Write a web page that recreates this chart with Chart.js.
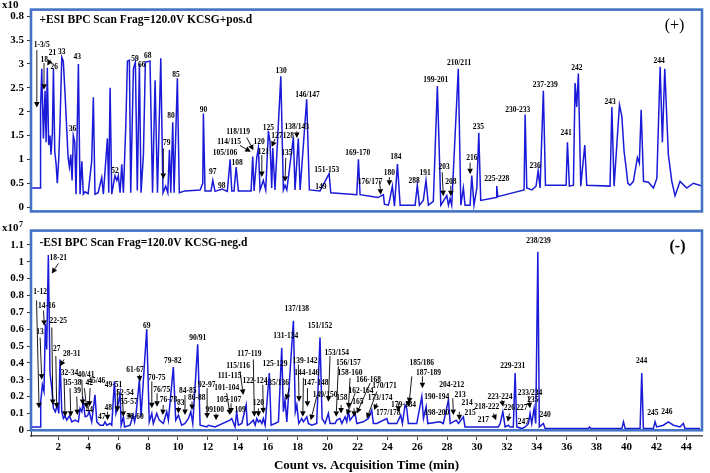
<!DOCTYPE html>
<html><head><meta charset="utf-8">
<script src="https://cdn.jsdelivr.net/npm/chart.js"></script>
<style>
html,body{margin:0;padding:0;background:#fff;}
#wrap{position:relative;width:710px;height:473px;overflow:hidden;background:#fff;}
canvas{position:absolute;left:0;}
</style></head><body>
<div id="wrap">
<canvas id="cTop" width="710" height="221" style="top:0"></canvas>
<canvas id="cBot" width="710" height="252" style="top:221px"></canvas>
</div>
<script>
// ---------- DATA ----------
// (+) ESI trace: acquisition time (min) and count (x10^7)
const topTime = [
0.22,0.78,0.81,0.89,1.00,1.11,1.18,1.26,1.35,1.44,
1.51,1.60,1.67,1.76,1.85,1.93,2.03,2.11,2.23,2.33,
2.45,2.56,2.65,2.74,2.83,2.92,3.00,3.10,3.18,3.34,
3.45,3.57,3.67,3.79,3.99,4.23,4.34,4.45,4.66,4.90,
5.01,5.28,5.37,5.46,5.57,5.79,5.91,6.01,6.13,6.24,
6.35,6.51,6.62,6.75,6.84,7.02,7.15,7.28,7.42,7.53,
7.69,7.82,8.13,8.30,8.47,8.63,8.85,9.00,9.18,9.32,
9.43,9.52,9.65,9.74,9.96,10.09,10.47,11.48,11.66,11.70,
11.81,12.21,12.33,12.48,12.95,13.30,13.49,13.60,13.75,13.89,
14.04,14.89,15.00,15.09,15.27,15.38,15.49,15.71,15.87,16.05,
16.16,16.27,16.34,16.49,16.88,17.05,17.16,17.28,17.72,17.83,
18.05,18.17,18.61,18.79,19.50,20.11,20.22,21.96,22.07,22.18,
23.38,23.74,23.81,24.07,24.14,24.34,24.48,24.68,24.86,25.86,
26.01,26.15,26.41,26.59,26.75,27.08,27.35,27.58,27.98,28.09,
28.20,28.31,28.75,28.92,29.09,29.20,29.54,29.65,29.80,29.99,
30.12,30.25,31.28,31.32,31.39,33.15,33.22,33.33,33.67,33.95,
34.09,34.22,34.44,34.58,35.96,36.05,36.18,36.45,36.56,36.67,
36.78,36.94,37.21,37.34,38.90,39.02,39.17,39.53,39.69,39.84,
39.97,40.09,40.24,40.46,40.73,40.86,40.98,41.14,41.47,41.80,
42.03,42.25,42.40,42.56,42.80,43.03,43.25,43.58,44.03,44.47,
45.04];
const topCount = [
0.40,0.40,2.06,2.90,1.44,2.44,1.36,2.92,1.30,1.50,
1.10,1.56,2.90,1.16,0.90,0.50,1.04,1.76,3.14,3.06,
2.36,1.64,1.04,0.84,1.10,0.56,1.50,1.36,0.27,3.00,
0.27,0.96,0.27,0.32,0.28,0.96,2.30,0.27,0.30,0.62,
0.27,1.44,0.30,2.50,0.27,0.66,0.56,0.66,0.30,0.90,
0.30,1.70,3.06,3.08,0.30,2.90,3.04,0.35,3.00,0.30,
1.10,3.04,3.06,0.30,2.66,0.30,3.12,0.30,0.44,0.30,
1.20,0.30,1.78,0.30,2.70,0.30,0.34,0.36,0.50,1.96,
0.34,0.34,0.56,0.33,0.38,0.33,1.00,0.34,0.34,0.84,
0.34,0.34,1.06,0.34,1.04,1.24,0.36,0.56,0.36,1.60,
1.34,0.40,1.24,0.36,2.74,0.36,0.46,0.36,1.46,0.36,
1.44,0.36,2.26,0.36,0.34,0.70,0.30,0.26,1.00,0.26,
0.20,0.26,0.06,0.04,0.12,0.44,0.02,0.90,0.04,0.04,
0.46,0.04,0.14,0.56,0.04,0.12,2.54,0.04,0.24,0.04,
0.18,0.04,2.90,0.04,0.40,0.04,0.04,0.66,0.04,0.40,
1.56,0.14,0.20,0.44,0.22,0.36,1.94,0.40,0.36,0.44,
0.76,0.40,2.44,0.46,0.46,1.36,0.44,0.46,2.60,2.10,
2.80,0.44,1.30,0.46,0.44,2.10,0.44,2.14,1.90,1.16,
0.84,0.50,0.46,0.54,1.04,0.92,2.04,0.54,0.52,0.40,
0.60,2.94,1.36,2.90,1.10,0.54,0.24,0.54,0.40,0.50,
0.44];

// (-) ESI trace: acquisition time (min) and count (x10^7)
const botTime = [
0.22,0.78,0.82,0.93,1.04,1.13,1.22,1.33,1.44,1.56,
1.67,1.80,1.93,2.03,2.11,2.23,2.34,2.45,2.56,2.74,
2.90,3.12,3.34,3.45,3.57,3.67,3.79,3.94,4.07,4.23,
4.45,4.57,4.79,5.01,5.12,5.24,5.46,5.57,5.75,5.85,
5.95,6.13,6.20,6.35,6.43,6.80,7.00,7.10,7.20,7.42,
7.53,7.66,7.91,8.08,8.25,8.35,8.58,8.75,9.02,9.25,
9.36,9.69,9.85,10.03,10.25,10.47,10.70,10.86,10.99,11.32,
11.48,11.93,12.03,12.48,13.48,13.60,13.82,13.93,14.04,14.27,
14.56,14.64,14.82,15.04,15.16,15.27,15.38,15.49,15.61,15.71,
15.83,16.11,16.23,16.49,16.72,16.94,17.05,17.16,17.28,17.72,
17.85,17.95,18.08,18.28,18.39,18.62,18.72,18.95,19.28,19.50,
19.64,19.84,20.06,20.17,20.51,20.62,20.84,20.96,21.18,21.29,
21.40,21.51,21.85,21.96,22.40,22.74,22.96,23.07,23.30,23.97,
24.07,24.64,24.90,25.01,25.19,25.30,25.41,25.97,26.31,26.42,
26.60,26.71,27.53,27.75,28.09,28.21,28.61,28.76,29.09,29.20,
31.43,31.55,31.73,31.88,32.10,32.21,32.43,32.55,32.66,33.00,
33.22,33.44,33.55,33.66,33.82,33.93,34.07,34.17,34.44,34.56,
37.45,37.52,37.62,39.69,39.80,39.91,40.91,41.02,41.13,41.80,
41.91,42.02,42.47,42.80,43.14,43.58,43.80,43.91,44.92];
const botCount = [
0.02,0.02,0.17,0.27,0.23,0.63,0.48,1.04,0.34,0.25,
0.13,0.11,0.15,0.10,0.42,0.11,0.07,0.085,0.06,0.085,
0.05,0.06,0.05,0.13,0.11,0.17,0.08,0.085,0.11,0.05,
0.21,0.05,0.03,0.03,0.05,0.03,0.04,0.03,0.29,0.10,
0.13,0.22,0.03,0.08,0.02,0.03,0.09,0.05,0.10,0.30,
0.08,0.26,0.60,0.05,0.10,0.04,0.10,0.06,0.04,0.11,
0.06,0.375,0.06,0.09,0.03,0.04,0.07,0.11,0.04,0.51,
0.03,0.02,0.03,0.02,0.06,0.07,0.02,0.11,0.03,0.04,
0.15,0.03,0.04,0.06,0.03,0.07,0.05,0.06,0.04,0.07,
0.03,0.34,0.03,0.04,0.05,0.49,0.11,0.18,0.05,0.65,
0.11,0.15,0.04,0.07,0.05,0.08,0.04,0.03,0.04,0.55,
0.07,0.04,0.10,0.04,0.04,0.06,0.07,0.04,0.08,0.05,
0.11,0.06,0.10,0.04,0.05,0.07,0.12,0.04,0.04,0.07,
0.04,0.04,0.09,0.04,0.15,0.13,0.04,0.04,0.20,0.07,
0.14,0.04,0.05,0.04,0.18,0.04,0.06,0.04,0.08,0.02,
0.02,0.04,0.11,0.02,0.03,0.02,0.02,0.34,0.02,0.01,
0.02,0.04,0.10,0.04,0.13,0.04,1.06,0.02,0.04,0.01,
0.01,0.02,0.01,0.01,0.05,0.01,0.01,0.34,0.01,0.01,
0.05,0.02,0.03,0.05,0.03,0.02,0.04,0.01,0.01];

// tick values and labels
const xTicks = [2,4,6,8,10,12,14,16,18,20,22,24,26,28,30,32,34,36,38,40,42,44];
const topTicks = [0,0.5,1,1.5,2,2.5,3,3.5,4];
const topTickLabels = ['0','0.5','1','1.5','2','2.5','3','3.5','0.8'];
const botTicks = [0,0.1,0.2,0.3,0.4,0.5,0.6,0.7,0.8,0.9,1.0,1.1];
const botTickLabels = ['0','0.1','0.2','0.3','0.4','0.5','0.6','0.7','0.8','0.9','1','1.1'];

// peak labels: [text, time, count]
const topLabels = [
['1-3/5',0.89,3.39],['18',1.06,3.09],['21',1.60,3.23],['26',1.73,2.93],['33',2.23,3.25],['36',2.94,1.63],
['43',3.27,3.15],['52',5.79,0.75],['59',7.13,3.11],['66',7.58,2.97],['68',7.98,3.17],['79',9.25,1.35],
['80',9.54,1.91],['85',9.87,2.77],['90',11.70,2.03],['97',12.33,0.73],['98',12.93,0.45],['105/106',13.15,1.13],
['108',13.95,0.93],['114/115',13.42,1.37],['118/119',14.02,1.57],['120',15.42,1.37],['121',15.71,1.15],
['125',16.05,1.65],['127',16.61,1.49],['128',17.38,1.49],['130',16.90,2.85],['135',17.28,1.13],
['138/143',17.95,1.67],['146/147',18.66,2.35],['149',19.55,0.43],['151-153',19.95,0.77],['169-170',22.03,1.13],
['176/177',22.85,0.53],['180',24.14,0.71],['184',24.57,1.05],['288',25.79,0.55],['191',26.53,0.71],
['199-201',27.24,2.67],['203',27.80,0.83],['208',28.25,0.53],['210/211',28.80,3.01],['216',29.65,1.03],
['235',30.09,1.67],['225-228',31.32,0.59],['230-233',32.73,2.03],['236',33.89,0.85],['237-239',34.56,2.55],
['241',35.96,1.55],['242',36.68,2.91],['243',38.90,2.21],['244',42.18,3.07]];
// arrows: [fromTime, fromCount, toTime, toCount]
const topArrows = [
[0.56,3.29,0.56,2.09],[1.04,3.02,1.04,2.46],[1.49,3.09,1.26,2.97],[9.02,1.23,9.02,0.59],
[14.15,1.29,14.87,1.16],[14.60,1.46,15.04,1.19],[15.61,1.09,15.61,0.63],[16.49,1.43,16.27,1.26],
[17.21,1.03,17.16,0.53],[17.95,1.59,17.95,1.45],[23.47,0.56,23.57,0.26],[24.14,0.63,24.14,0.45],
[27.67,0.73,27.75,0.23],[28.25,0.45,28.25,0.23],[29.54,0.93,29.54,0.69]];

const botLabels = [
['1-12',0.78,0.82],['14-16',1.22,0.74],['13',0.78,0.58],['18-21',2.00,1.02],['22-25',2.00,0.65],['27',1.89,0.48],
['28-31',2.90,0.45],['32-34',2.74,0.34],['35-38',2.96,0.28],['40/41',3.85,0.33],['42',4.07,0.28],['39',3.27,0.23],
['45/46',4.57,0.29],['44',4.07,0.12],['47',4.90,0.08],['48',5.34,0.13],['49-51',5.68,0.27],['52-54',6.46,0.22],
['55-57',6.73,0.17],['58-60',7.13,0.08],['61-67',7.13,0.36],['69',7.91,0.62],['70-75',8.58,0.31],['76/75',8.92,0.24],
['76-78',9.36,0.18],['79-82',9.65,0.41],['83',10.19,0.16],['84-85',10.66,0.23],['86-88',11.26,0.19],['90/91',11.32,0.55],
['92-97',11.93,0.27],['99',12.10,0.12],['100',12.70,0.12],['101-104',13.26,0.25],['105-107',13.40,0.18],['109',14.15,0.12],
['111-115',13.45,0.32],['115/116',14.02,0.38],['117-119',14.78,0.45],['122-124',15.16,0.29],['120',15.38,0.16],
['125-129',16.49,0.39],['131-134',17.21,0.56],['135/136',16.61,0.28],['137/138',17.95,0.72],['139-142',18.50,0.41],
['144-146',18.62,0.34],['147-148',19.24,0.28],['149/150',19.84,0.21],['151/152',19.50,0.62],['153/154',20.62,0.46],
['156/157',21.40,0.40],['158-160',21.51,0.34],['158',20.96,0.19],['162-164',22.25,0.23],['165',22.03,0.17],
['166-168',22.74,0.30],['170/171',23.81,0.26],['173/174',23.52,0.19],['177/178',24.07,0.10],['179-184',25.08,0.15],
['185/186',26.31,0.40],['187-189',26.75,0.34],['190-194',27.31,0.20],['198-200',27.31,0.10],['204-212',28.31,0.27],
['213',28.87,0.21],['214',29.34,0.16],['215',29.54,0.10],['217',30.43,0.06],['218-222',30.66,0.14],['223-224',31.54,0.20],
['226',32.17,0.13],['229-231',32.39,0.38],['227',33.00,0.13],['233/234',33.55,0.22],['235',33.73,0.18],['247',33.10,0.05],
['238/239',34.11,1.12],['240',34.56,0.09],['244',41.02,0.41],['245',41.76,0.10],['246',42.70,0.11]];
const botArrows = [
[0.54,0.77,0.71,0.13],[1.01,0.71,1.06,0.62],[0.78,0.55,0.89,0.30],[2.00,0.99,1.56,0.93],[1.56,0.61,1.63,0.15],
[1.83,0.44,1.89,0.13],[2.38,0.42,2.11,0.38],[2.38,0.31,2.45,0.08],[2.78,0.25,2.83,0.08],[3.57,0.30,3.63,0.15],
[3.74,0.25,3.90,0.13],[3.23,0.20,3.27,0.09],[4.12,0.25,4.07,0.14],[5.29,0.11,5.29,0.06],[5.95,0.24,5.95,0.11],
[6.28,0.21,6.35,0.08],[6.83,0.09,6.60,0.08],[7.42,0.33,7.46,0.29],[8.25,0.29,8.25,0.13],[8.60,0.22,8.60,0.14],
[9.02,0.15,8.98,0.09],[10.03,0.14,10.03,0.10],[10.47,0.21,10.47,0.09],[10.94,0.17,10.94,0.12],[11.95,0.25,11.95,0.07],
[12.55,0.10,12.55,0.06],[13.26,0.22,13.48,0.09],[13.55,0.16,13.55,0.10],[14.15,0.35,14.37,0.21],[15.04,0.42,15.11,0.08],
[15.67,0.27,15.71,0.10],[15.38,0.13,15.38,0.08],[17.45,0.25,17.23,0.18],[18.05,0.39,18.10,0.17],[18.39,0.31,18.35,0.08],
[18.66,0.25,18.66,0.14],[19.28,0.20,18.88,0.06],[20.17,0.44,20.06,0.17],[20.73,0.38,20.58,0.08],[21.51,0.31,21.40,0.13],
[20.91,0.15,20.91,0.10],[21.85,0.22,21.29,0.09],[21.78,0.13,21.78,0.08],[22.85,0.28,21.96,0.10],[23.30,0.23,22.63,0.07],
[23.30,0.16,23.12,0.12],[24.74,0.16,24.74,0.11],[25.41,0.19,25.41,0.14],[26.35,0.32,26.35,0.25],[25.64,0.32,25.46,0.16],
[28.38,0.19,28.42,0.09],[28.82,0.11,28.82,0.06],[31.10,0.10,31.28,0.06],[31.66,0.18,31.75,0.14],[32.17,0.10,32.06,0.05],
[33.44,0.20,33.55,0.13]];

// ---------- STYLE / RENDER ----------
const FONT = '"Liberation Serif", "Times New Roman", serif';
const FRAME = '#4472c4';
const TRACE = '#1a1ad8';
const X_MIN = 0.17, X_MAX = 45.05;

function pts(ts, vs){ return ts.map((t,i)=>({x:t, y:vs[i]})); }

function drawArrow(ctx,x1,y1,x2,y2){
  const ang = Math.atan2(y2-y1, x2-x1);
  const len = Math.hypot(x2-x1, y2-y1);
  const hl = Math.min(5.5, len), hw = 2.8;
  const bx = x2 - hl*Math.cos(ang), by = y2 - hl*Math.sin(ang);
  if (len > hl) { ctx.beginPath(); ctx.moveTo(x1,y1); ctx.lineTo(bx,by); ctx.stroke(); }
  ctx.beginPath(); ctx.moveTo(x2,y2);
  ctx.lineTo(bx + hw*Math.sin(ang), by - hw*Math.cos(ang));
  ctx.lineTo(bx - hw*Math.sin(ang), by + hw*Math.cos(ang));
  ctx.closePath(); ctx.fill();
}

const panelDeco = {
  id: 'panelDeco',
  afterDatasetsDraw(chart, args, o) {
    const {ctx, chartArea:a, scales:{x, y}} = chart;
    ctx.save();
    ctx.strokeStyle = FRAME; ctx.lineWidth = 2.6;
    const fb = o.frameAtZero ? y.getPixelForValue(0) : a.bottom;
    ctx.strokeRect(a.left, a.top, a.right - a.left, fb - a.top);
    ctx.strokeStyle = '#000'; ctx.fillStyle = '#000'; ctx.lineWidth = 0.9;
    o.arrows.forEach(([t1,v1,t2,v2]) => drawArrow(ctx, x.getPixelForValue(t1), y.getPixelForValue(v1), x.getPixelForValue(t2), y.getPixelForValue(v2)));
    ctx.font = 'bold 7.5px ' + FONT; ctx.textAlign = 'center'; ctx.textBaseline = 'middle';
    o.labels.forEach(([s,t,v]) => ctx.fillText(s, x.getPixelForValue(t), y.getPixelForValue(v)));
    ctx.font = 'bold 11.5px ' + FONT; ctx.textAlign = 'left';
    ctx.fillText(o.title, a.left + 8.5, a.top + o.titleDy);
    ctx.font = o.signFont + ' 16px ' + FONT; ctx.textAlign = 'center';
    ctx.fillText(o.sign, a.right - o.signDx, a.top + o.signDy);
    ctx.font = 'bold 11px ' + FONT; ctx.textAlign = 'left';
    ctx.fillText('x10', 2, o.multY);
    if (o.exp) {
      const w = ctx.measureText('x10').width;
      ctx.font = 'bold 8px ' + FONT;
      ctx.fillText(o.exp, 2 + w + 0.5, o.multY - 4);
    }
    ctx.restore();
  }
};

const tickFont = {family: FONT, size: 11, weight: 'bold'};

new Chart(document.getElementById('cTop'), {
  type: 'line',
  data: { datasets: [{ data: pts(topTime, topCount), borderColor: TRACE, borderWidth: 1.5, pointRadius: 0, tension: 0, fill: false }] },
  options: {
    responsive: false, animation: false, devicePixelRatio: 1,
    layout: { padding: { left: 0, right: 8, top: 7.5, bottom: 2 } },
    plugins: { legend: {display:false}, tooltip: {enabled:false},
      panelDeco: { labels: topLabels, arrows: topArrows, title: '+ESI BPC Scan Frag=120.0V KCSG+pos.d', titleDy: 10.8,
                   sign: '(+)', signFont: 'normal', signDx: 27.5, signDy: 16, multY: 5, exp: '', frameAtZero: false } },
    scales: {
      x: { type: 'linear', display: false, min: X_MIN, max: X_MAX },
      y: { type: 'linear', min: -0.09, max: 4.14,
           afterBuildTicks: s => { s.ticks = topTicks.map(v => ({value: v})); },
           afterFit: s => { s.width = 31; },
           grid: { display: true, drawOnChartArea: false, drawTicks: true, tickLength: 4, color: '#333' },
           border: { display: false },
           ticks: { font: tickFont, color: '#000', padding: 3, autoSkip: false, callback: (v, i) => topTickLabels[i] } }
    }
  },
  plugins: [panelDeco]
});

new Chart(document.getElementById('cBot'), {
  type: 'line',
  data: { datasets: [{ data: pts(botTime, botCount), borderColor: TRACE, borderWidth: 1.5, pointRadius: 0, tension: 0, fill: false }] },
  options: {
    responsive: false, animation: false, devicePixelRatio: 1,
    layout: { padding: { left: 0, right: 8, top: 1.7, bottom: 0 } },
    plugins: { legend: {display:false}, tooltip: {enabled:false},
      panelDeco: { labels: botLabels, arrows: botArrows, title: '-ESI BPC Scan Frag=120.0V KCSG-neg.d', titleDy: 12.5,
                   sign: '(-)', signFont: 'bold', signDx: 24.5, signDy: 16.5, multY: 7.5, exp: '7', frameAtZero: true } },
    scales: {
      x: { type: 'linear', min: X_MIN, max: X_MAX,
           afterBuildTicks: s => { s.ticks = xTicks.map(v => ({value: v})); },
           afterFit: s => { s.height = 37; },
           grid: { display: true, drawOnChartArea: false, drawTicks: true, tickLength: 4, color: '#444' },
           border: { display: true, color: '#555', width: 1.5 },
           ticks: { font: tickFont, color: '#000', padding: 1, maxRotation: 0, autoSkip: false, callback: v => String(v) },
           title: { display: true, text: 'Count vs. Acquisition Time (min)', color: '#000',
                    font: {family: FONT, size: 13, weight: 'bold'}, padding: {top: 0, bottom: 0} } },
      y: { type: 'linear', min: -0.034, max: 1.185,
           afterBuildTicks: s => { s.ticks = botTicks.map(v => ({value: v})); },
           afterFit: s => { s.width = 31; },
           grid: { display: true, drawOnChartArea: false, drawTicks: true, tickLength: 4, color: '#333' },
           border: { display: true, color: '#333', width: 1 },
           ticks: { font: tickFont, color: '#000', padding: 3, autoSkip: false, callback: (v, i) => botTickLabels[i] } }
    }
  },
  plugins: [panelDeco]
});
</script>
</body></html>
